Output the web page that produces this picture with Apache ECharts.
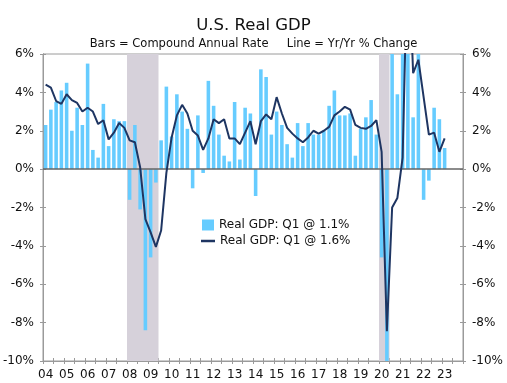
<!DOCTYPE html>
<html>
<head>
<meta charset="utf-8">
<script src="https://cdn.jsdelivr.net/npm/echarts@6/dist/echarts.min.js"></script>
<style>
html,body{margin:0;padding:0;background:#fff;}
#chart{width:507px;height:383px;}
</style>
</head>
<body>
<div id="chart"></div>
<script>
// ---- data ----
const startYear = 2004;
const endYear = 2023;
const tickLabels = ['04','05','06','07','08','09','10','11','12','13','14','15','16','17','18','19','20','21','22','23'];
// Real GDP, compound annual rate (bars), 2004Q1 .. 2023Q1
const barValues = [
  2.3, 3.1, 3.5, 4.1,
  4.5, 2.0, 3.2, 2.3,
  5.5, 1.0, 0.6, 3.4,
  1.2, 2.6, 2.5, 2.5,
  -1.6, 2.3, -2.1, -8.4,
  -4.6, -0.7, 1.5, 4.3,
  1.7, 3.9, 3.0, 2.1,
  -1.0, 2.8, -0.2, 4.6,
  3.3, 1.8, 0.7, 0.4,
  3.5, 0.5, 3.2, 2.9,
  -1.4, 5.2, 4.8, 1.8,
  3.0, 2.3, 1.3, 0.6,
  2.4, 1.2, 2.4, 1.8,
  1.8, 2.0, 3.3, 4.1,
  2.8, 2.8, 2.9, 0.7,
  2.1, 2.7, 3.6, 1.8,
  -4.6, -29.9, 35.3, 3.9,
  6.3, 7.0, 2.7, 7.0,
  -1.6, -0.6, 3.2, 2.6,
  1.1
];
// Real GDP, year-over-year % change (line), 2004Q1 .. 2023Q1
const lineValues = [
  4.4, 4.25, 3.55, 3.4,
  3.9, 3.6, 3.45, 3.0,
  3.2, 3.0, 2.35, 2.55,
  1.55, 1.9, 2.4, 2.15,
  1.5, 1.4, 0.1, -2.6,
  -3.3, -4.05, -3.2, -0.2,
  1.65, 2.8, 3.35, 2.9,
  2.0, 1.75, 1.0, 1.6,
  2.6, 2.4, 2.6, 1.6,
  1.6, 1.3, 1.9, 2.5,
  1.3, 2.5, 2.85, 2.6,
  3.75, 2.9, 2.15, 1.85,
  1.6, 1.4, 1.65, 2.0,
  1.85, 2.0, 2.2, 2.8,
  3.0, 3.25, 3.1, 2.3,
  2.15, 2.1, 2.25, 2.55,
  0.9, -8.45, -2.0, -1.5,
  0.6, 12.2, 5.0, 5.7,
  3.75, 1.8, 1.9, 0.9,
  1.6
];
const recessionQuarters = ['2008Q1','2008Q2','2008Q3','2008Q4','2009Q1','2009Q2','2020Q1','2020Q2'];
const barName = 'Real GDP: Q1 @ 1.1%';
const lineName = 'Real GDP: Q1 @ 1.6%';
const yMin = -10, yMax = 6, yStep = 2;

// ---- build ----
const quarters = [];
for (let y = startYear; y <= endYear; y++) {
  for (let q = 1; q <= 4; q++) quarters.push(y + 'Q' + q);
}
// contiguous recession runs as [startIndex, endIndex+1] on a quarter-index scale
const recIdx = recessionQuarters.map(q => quarters.indexOf(q)).sort((a, b) => a - b);
const recRuns = [];
recIdx.forEach(i => {
  const last = recRuns[recRuns.length - 1];
  if (last && last[1] === i) last[1] = i + 1; else recRuns.push([i, i + 1]);
});

const FONT = 'DejaVu Sans';
const AXIS_COLOR = '#9a9a9a';
const chart = echarts.init(document.getElementById('chart'), null, {renderer: 'canvas'});

function yAx(pos, inside, labels) {
  return {
    type: 'value', position: pos, min: yMin, max: yMax, interval: yStep,
    axisLine: {show: true, lineStyle: {color: AXIS_COLOR, width: 1}},
    axisTick: {show: true, inside: inside, length: 3, lineStyle: {color: AXIS_COLOR}},
    splitLine: {show: false},
    axisLabel: {show: labels, formatter: '{value}%', fontFamily: FONT, fontSize: 12, color: '#111', margin: 9}
  };
}

const option = {
  animation: false,
  backgroundColor: '#ffffff',
  title: [
    {text: 'U.S. Real GDP', left: 'center', top: 12,
     textStyle: {fontFamily: FONT, fontSize: 16.5, fontWeight: 'normal', color: '#111'}},
    {text: 'Bars = Compound Annual Rate     Line = Yr/Yr % Change', left: 'center', top: 33,
     textStyle: {fontFamily: FONT, fontSize: 11.5, fontWeight: 'normal', color: '#111'}}
  ],
  legend: [
    {data: [{name: barName, icon: 'rect'}], left: 197, top: 214, itemWidth: 12, itemHeight: 11, itemGap: 4,
     textStyle: {fontFamily: FONT, fontSize: 12, color: '#111'}},
    {data: [{name: lineName, icon: 'rect'}], left: 196, top: 230, itemWidth: 14, itemHeight: 2.5, itemGap: 4,
     textStyle: {fontFamily: FONT, fontSize: 12, color: '#111'}}
  ],
  grid: {left: 43, right: 44, top: 54, bottom: 22, show: true, borderColor: AXIS_COLOR, borderWidth: 1, backgroundColor: 'transparent'},
  xAxis: [
    {type: 'category', data: quarters, position: 'bottom', boundaryGap: true,
     axisLine: {show: true, onZero: false, lineStyle: {color: AXIS_COLOR}},
     axisTick: {show: true, interval: 1, length: 3, lineStyle: {color: AXIS_COLOR}},
     axisLabel: {interval: 3, formatter: (v, i) => tickLabels[Math.floor(i / 4)], fontFamily: FONT, fontSize: 12, color: '#111', margin: 8}},
    {type: 'category', data: quarters, position: 'bottom', boundaryGap: true,
     axisLine: {show: false, onZero: false},
     axisTick: {show: true, inside: true, interval: 1, length: 3, lineStyle: {color: AXIS_COLOR}},
     axisLabel: {show: false}},
    {type: 'value', min: 0, max: quarters.length, show: false}
  ],
  yAxis: [yAx('left', false, true), yAx('right', false, true), yAx('left', true, false), yAx('right', true, false)],
  series: [
    {type: 'line', xAxisIndex: 2, yAxisIndex: 0, data: [], silent: true, z: 1,
     markArea: {silent: true, itemStyle: {color: '#d6d1da'},
       data: recRuns.map(r => [{xAxis: r[0]}, {xAxis: r[1]}])}},
    {name: barName, type: 'bar', xAxisIndex: 0, yAxisIndex: 0, data: barValues, barWidth: '68%',
     itemStyle: {color: '#66ccff'}, z: 2, clip: true,
     markLine: {silent: true, symbol: ['none', 'none'], label: {show: false}, z: 3,
       lineStyle: {color: '#666666', width: 1.5, type: 'solid'}, data: [{yAxis: 0}]}},
    {name: lineName, type: 'line', xAxisIndex: 0, yAxisIndex: 0, data: lineValues, symbol: 'none', smooth: false,
     lineStyle: {color: '#1e3562', width: 2}, itemStyle: {color: '#1e3562'}, z: 4, clip: true}
  ]
};
chart.setOption(option);
</script>
</body>
</html>
